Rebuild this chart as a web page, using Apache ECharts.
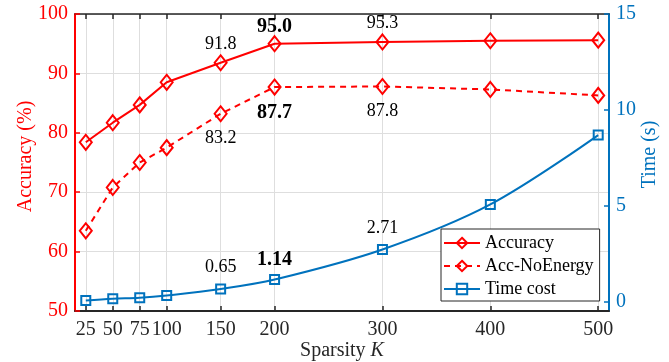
<!DOCTYPE html>
<html>
<head>
<meta charset="utf-8">
<script src="https://cdn.jsdelivr.net/npm/echarts@6/dist/echarts.min.js"></script>
<style>
html,body{margin:0;padding:0;background:#fff;}
#c{width:669px;height:362px;}
</style>
</head>
<body>
<div id="c"></div>
<script>
const sparsity = [25, 50, 75, 100, 150, 200, 300, 400, 500];
const accuracy = [78.4, 81.7, 84.7, 88.5, 91.8, 95.0, 95.3, 95.5, 95.6];
const accNoEnergy = [63.5, 70.8, 75.0, 77.5, 83.2, 87.7, 87.8, 87.3, 86.3];
const timeCost = [0.05, 0.14, 0.19, 0.31, 0.65, 1.14, 2.71, 5.06, 8.68];
const xTicks = [25, 50, 75, 100, 150, 200, 300, 400, 500];
const timeTicks = [0, 5, 10, 15];
const labeledIdx = [4, 5, 6];
const boldIdx = 5;

const FONT = '"Liberation Serif", "Times New Roman", serif';
const RED = '#ff0000';
const BLUE = '#0072bd';

function build(vals, pos, digits, dist) {
  return vals.map((v, i) => {
    const item = { value: [sparsity[i], v] };
    if (labeledIdx.includes(i)) {
      const bold = i === boldIdx;
      item.label = {
        show: true, position: pos, distance: bold && pos === 'top' ? dist - 3 : dist,
        formatter: v.toFixed(digits),
        color: '#000', fontFamily: FONT, fontSize: bold ? 20 : 18,
        fontWeight: bold ? 'bold' : 'normal'
      };
    }
    return item;
  });
}

const chart = echarts.init(document.getElementById('c'), null, { renderer: 'canvas' });
chart.setOption({
  animation: false,
  backgroundColor: '#fff',
  grid: { left: 75, right: 60, top: 14, bottom: 51, containLabel: false, outerBoundsMode: 'none' },
  legend: {
    orient: 'vertical', left: 441, top: 229,
    backgroundColor: '#fff', borderColor: '#262626', borderWidth: 1,
    padding: [5, 6, 3, 2], itemGap: 5, itemWidth: 36, itemHeight: 13,
    textStyle: { fontFamily: FONT, fontSize: 18, lineHeight: 18, color: '#000' },
    data: ['Accuracy', 'Acc-NoEnergy', 'Time cost']
  },
  xAxis: [{
    type: 'value', min: 15, max: 510,
    name: 'Sparsity {i|K}', nameLocation: 'middle', nameGap: 30, nameMoveOverlap: false,
    nameTextStyle: { fontFamily: FONT, fontSize: 20, color: '#262626',
      rich: { i: { fontStyle: 'italic', fontFamily: FONT, fontSize: 20, color: '#262626' } } },
    axisLine: { onZero: false, lineStyle: { color: '#262626', width: 2 } },
    axisTick: { inside: true, length: 5, customValues: xTicks, lineStyle: { color: '#262626', width: 1.5 } },
    axisLabel: { customValues: xTicks, fontFamily: FONT, fontSize: 20, color: '#262626', margin: 9 },
    splitLine: { show: true, lineStyle: { color: '#dedede', width: 1 } }
  }, {
    type: 'value', min: 15, max: 510, position: 'top',
    axisLine: { onZero: false, lineStyle: { color: '#262626', width: 1.5 } },
    axisTick: { inside: true, length: 5, customValues: xTicks, lineStyle: { color: '#262626', width: 1.5 } },
    axisLabel: { show: false, customValues: xTicks },
    splitLine: { show: false }
  }],
  yAxis: [{
    type: 'value', min: 50, max: 100, interval: 10, position: 'left',
    name: 'Accuracy (%)', nameLocation: 'middle', nameGap: 39, nameMoveOverlap: false,
    nameTextStyle: { fontFamily: FONT, fontSize: 20, color: RED, padding: [0, 0, 0, 12] },
    axisLine: { show: true, onZero: false, lineStyle: { color: RED, width: 2 } },
    axisTick: { show: true, inside: true, length: 5, lineStyle: { color: RED, width: 1.5 } },
    axisLabel: { fontFamily: FONT, fontSize: 20, color: RED, margin: 7 },
    splitLine: { show: true, lineStyle: { color: '#dedede', width: 1 } }
  }, {
    type: 'value', min: -0.5, max: 15, position: 'right',
    name: 'Time (s)', nameLocation: 'middle', nameGap: 31, nameRotate: 90, nameMoveOverlap: false,
    nameTextStyle: { fontFamily: FONT, fontSize: 20, color: BLUE, padding: [0, 0, 0, 16] },
    axisLine: { show: true, onZero: false, lineStyle: { color: BLUE, width: 2 } },
    axisTick: { show: true, inside: true, length: 5, customValues: timeTicks, lineStyle: { color: BLUE, width: 1.5 } },
    axisLabel: { customValues: timeTicks, fontFamily: FONT, fontSize: 20, color: BLUE, margin: 7 },
    splitLine: { show: false }
  }],
  series: [{
    name: 'Accuracy', type: 'line', xAxisIndex: 0, yAxisIndex: 0,
    data: build(accuracy, 'top', 1, 1),
    symbol: 'diamond', symbolSize: [12, 15],
    itemStyle: { color: 'rgba(255,255,255,0)', borderColor: RED, borderWidth: 2 },
    lineStyle: { color: RED, width: 2 },
    z: 3
  }, {
    name: 'Acc-NoEnergy', type: 'line', xAxisIndex: 0, yAxisIndex: 0,
    data: build(accNoEnergy, 'bottom', 1, 7),
    symbol: 'diamond', symbolSize: [12, 15],
    itemStyle: { color: 'rgba(255,255,255,0)', borderColor: RED, borderWidth: 2 },
    lineStyle: { color: RED, width: 2, type: [6, 5] },
    z: 3
  }, {
    name: 'Time cost', type: 'line', xAxisIndex: 0, yAxisIndex: 1,
    data: build(timeCost, 'top', 2, 7),
    symbol: 'rect', symbolSize: 9, smooth: 0.35,
    itemStyle: { color: 'rgba(255,255,255,0)', borderColor: BLUE, borderWidth: 2 },
    lineStyle: { color: BLUE, width: 2 },
    z: 3
  }]
});
</script>
</body>
</html>
